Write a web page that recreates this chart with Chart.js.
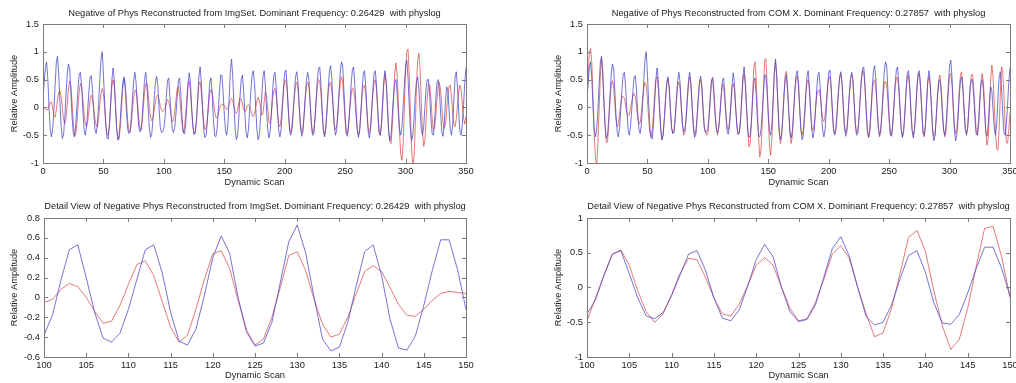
<!DOCTYPE html>
<html>
<head>
<meta charset="utf-8">
<script src="https://cdn.jsdelivr.net/npm/chart.js@4"></script>
<style>
  html, body { margin: 0; padding: 0; background: #fff; }
  #figure { position: relative; width: 1016px; height: 383px; overflow: hidden; background: #fff; }
  #figure canvas { position: absolute; }
</style>
</head>
<body>
<div id="figure">
  <canvas id="imgOverview" width="508" height="190" style="left:0;top:0"></canvas>
  <canvas id="comOverview" width="508" height="190" style="left:508px;top:0"></canvas>
  <canvas id="imgDetail" width="508" height="193" style="left:0;top:190px"></canvas>
  <canvas id="comDetail" width="508" height="193" style="left:508px;top:190px"></canvas>
</div>
<script>
// Dynamic scan index of the first sample
const firstScan = 0;

// Physiological log trace (blue), one value per dynamic scan 0..350
const physlog = [
  0.18, 0.45, 0.72, 0.82, 0.5, 0.0, -0.4, -0.53, -0.4, -0.05,
  0.4, 0.8, 0.92, 0.6, 0.1, -0.35, -0.56, -0.5, -0.2, 0.2,
  0.58, 0.78, 0.7, 0.3, -0.15, -0.45, -0.53, -0.35, 0.0, 0.35,
  0.6, 0.63, 0.35, -0.05, -0.4, -0.5, -0.35, -0.05, 0.3, 0.55,
  0.57, 0.3, -0.1, -0.4, -0.47, -0.3, 0.05, 0.5, 0.88, 1.0,
  0.6, 0.1, -0.35, -0.55, -0.57, -0.3, 0.1, 0.5, 0.71, 0.5,
  0.05, -0.4, -0.59, -0.5, -0.2, 0.15, 0.45, 0.55, 0.35, -0.05,
  -0.38, -0.47, -0.45, -0.2, 0.15, 0.48, 0.63, 0.45, 0.05, -0.3,
  -0.44, -0.42, -0.2, 0.15, 0.5, 0.63, 0.4, 0.0, -0.38, -0.54,
  -0.48, -0.2, 0.15, 0.45, 0.56, 0.4, 0.0, -0.35, -0.45, -0.44,
  -0.38, -0.18, 0.17, 0.48, 0.53, 0.2, -0.15, -0.41, -0.45, -0.36,
  -0.12, 0.18, 0.48, 0.53, 0.25, -0.15, -0.44, -0.48, -0.32, 0.02,
  0.4, 0.62, 0.44, 0.0, -0.35, -0.49, -0.46, -0.25, 0.15, 0.56,
  0.73, 0.45, 0.0, -0.42, -0.54, -0.5, -0.25, 0.12, 0.46, 0.53,
  0.22, -0.22, -0.51, -0.53, -0.39, -0.08, 0.27, 0.58, 0.58, 0.28,
  -0.12, -0.42, -0.5, -0.3, 0.15, 0.65, 0.87, 0.55, 0.05, -0.4,
  -0.58, -0.5, -0.2, 0.2, 0.5, 0.58, 0.3, -0.1, -0.45, -0.55,
  -0.4, -0.05, 0.3, 0.58, 0.66, 0.45, 0.0, -0.4, -0.58, -0.5,
  -0.2, 0.2, 0.55, 0.66, 0.4, -0.05, -0.42, -0.55, -0.42, -0.1,
  0.3, 0.58, 0.63, 0.35, -0.05, -0.42, -0.53, -0.4, -0.05, 0.35,
  0.62, 0.67, 0.4, -0.05, -0.42, -0.5, -0.4, -0.1, 0.25, 0.55,
  0.64, 0.45, 0.05, -0.35, -0.52, -0.45, -0.15, 0.2, 0.5, 0.63,
  0.5, 0.1, -0.3, -0.5, -0.48, -0.22, 0.15, 0.5, 0.7, 0.73,
  0.4, -0.05, -0.42, -0.53, -0.38, -0.05, 0.35, 0.65, 0.75, 0.5,
  0.05, -0.35, -0.5, -0.42, -0.1, 0.3, 0.65, 0.82, 0.75, 0.3,
  -0.15, -0.48, -0.52, -0.3, 0.05, 0.42, 0.68, 0.73, 0.42, 0.0,
  -0.4, -0.54, -0.42, -0.1, 0.3, 0.6, 0.66, 0.4, -0.05, -0.42,
  -0.55, -0.4, -0.05, 0.35, 0.62, 0.66, 0.38, -0.05, -0.45, -0.5,
  -0.3, 0.1, 0.5, 0.66, 0.45, 0.0, -0.45, -0.6, -0.5, -0.15,
  0.2, 0.45, 0.5, 0.28, -0.1, -0.4, -0.5, -0.35, 0.0, 0.4,
  0.75, 0.85, 0.55, 0.05, -0.4, -0.6, -0.5, -0.2, 0.2, 0.48,
  0.55, 0.35, -0.05, -0.4, -0.5, -0.35, 0.0, 0.35, 0.5, 0.5,
  0.2, -0.2, -0.48, -0.5, -0.25, 0.15, 0.45, 0.5, 0.3, -0.1,
  -0.45, -0.52, -0.3, 0.1, 0.37, 0.3, -0.05, -0.4, -0.5, -0.3,
  0.15, 0.55, 0.64, 0.35, -0.1, -0.45, -0.5, -0.3, 0.05, 0.45,
  0.72
];

// Negative phys reconstructed from the image set (red, left column)
const imgSetPhys = [
  -0.02, -0.03, -0.02, -0.05, -0.04, 0.03, 0.09, 0.1, 0.0, -0.15,
  -0.18, -0.05, 0.15, 0.27, 0.3, 0.2, -0.02, -0.22, -0.29, -0.2,
  0.05, 0.32, 0.47, 0.4, 0.1, -0.25, -0.48, -0.5, -0.3, 0.0,
  0.3, 0.43, 0.38, 0.15, -0.12, -0.3, -0.35, -0.25, -0.05, 0.15,
  0.22, 0.15, -0.02, -0.2, -0.32, -0.35, -0.2, 0.05, 0.25, 0.34,
  0.25, 0.0, -0.3, -0.48, -0.5, -0.3, 0.05, 0.38, 0.5, 0.38,
  0.0, -0.38, -0.55, -0.57, -0.35, 0.0, 0.35, 0.52, 0.45, 0.12,
  -0.22, -0.42, -0.44, -0.3, -0.05, 0.18, 0.3, 0.31, 0.15, -0.12,
  -0.35, -0.41, -0.28, 0.0, 0.28, 0.42, 0.43, 0.25, 0.0, -0.18,
  -0.24, -0.2, -0.05, 0.1, 0.2, 0.22, 0.15, 0.03, -0.05, -0.08,
  -0.05, -0.02, 0.08, 0.14, 0.11, 0.0, -0.14, -0.26, -0.24, -0.08,
  0.13, 0.33, 0.37, 0.22, -0.04, -0.3, -0.45, -0.38, -0.12, 0.18,
  0.44, 0.47, 0.29, -0.03, -0.33, -0.48, -0.42, -0.2, 0.1, 0.42,
  0.46, 0.27, -0.02, -0.27, -0.4, -0.37, -0.2, 0.04, 0.26, 0.32,
  0.26, 0.1, -0.07, -0.18, -0.19, -0.12, -0.03, 0.04, 0.06, 0.05,
  0.04, 0.0, -0.04, -0.02, 0.05, 0.12, 0.16, 0.12, 0.02, -0.08,
  -0.11, -0.05, 0.08, 0.17, 0.15, 0.06, -0.04, -0.08, -0.05, 0.02,
  0.05, 0.02, -0.06, -0.14, -0.17, -0.12, 0.0, 0.12, 0.18, 0.12,
  0.0, -0.14, -0.12, 0.1, 0.28, 0.2, -0.05, -0.27, -0.29, -0.1,
  0.15, 0.3, 0.34, 0.2, -0.08, -0.3, -0.35, -0.22, 0.05, 0.3,
  0.47, 0.5, 0.3, -0.05, -0.35, -0.45, -0.35, -0.08, 0.2, 0.4,
  0.45, 0.32, 0.0, -0.3, -0.45, -0.4, -0.15, 0.15, 0.38, 0.45,
  0.4, 0.1, -0.25, -0.45, -0.45, -0.22, 0.1, 0.38, 0.5, 0.48,
  0.25, -0.1, -0.4, -0.5, -0.35, -0.05, 0.25, 0.42, 0.45, 0.3,
  0.0, -0.3, -0.4, -0.35, -0.1, 0.2, 0.45, 0.55, 0.45, 0.1,
  -0.25, -0.48, -0.45, -0.25, 0.0, 0.22, 0.35, 0.33, 0.15, -0.15,
  -0.4, -0.5, -0.4, -0.1, 0.2, 0.38, 0.4, 0.25, -0.05, -0.35,
  -0.45, -0.35, -0.05, 0.25, 0.45, 0.5, 0.3, -0.05, -0.4, -0.5,
  -0.35, 0.0, 0.4, 0.6, 0.45, 0.05, -0.4, -0.62, -0.65, -0.35,
  0.15, 0.6, 0.8, 0.6, 0.1, -0.45, -0.85, -0.95, -0.65, 0.0,
  0.65, 1.0, 1.05, 0.6, -0.1, -0.75, -1.03, -0.9, -0.35, 0.35,
  0.85, 0.97, 0.7, 0.1, -0.45, -0.7, -0.6, -0.2, 0.2, 0.42,
  0.4, 0.15, -0.2, -0.4, -0.38, -0.15, 0.15, 0.38, 0.45, 0.3,
  0.0, -0.28, -0.38, -0.3, -0.05, 0.22, 0.38, 0.4, 0.2, -0.1,
  -0.32, -0.35, -0.2, 0.05, 0.3, 0.4, 0.3, 0.05, -0.2, -0.3,
  -0.16
];

// Negative phys reconstructed from the centre-of-mass X trace (red, right column)
const comXPhys = [
  0.1, 0.6, 1.0, 1.06, 0.8, 0.15, -0.5, -0.9, -1.03, -0.65,
  -0.05, 0.55, 0.88, 0.7, 0.15, -0.35, -0.64, -0.62, -0.3, 0.1,
  0.4, 0.48, 0.38, 0.08, -0.22, -0.35, -0.3, -0.12, 0.08, 0.18,
  0.2, 0.16, 0.02, -0.1, -0.15, -0.13, -0.02, 0.1, 0.2, 0.25,
  0.2, 0.02, -0.2, -0.3, -0.28, -0.1, 0.15, 0.35, 0.45, 0.4,
  0.15, -0.2, -0.45, -0.53, -0.4, -0.1, 0.25, 0.5, 0.55, 0.35,
  -0.05, -0.4, -0.57, -0.5, -0.2, 0.15, 0.42, 0.52, 0.35, -0.02,
  -0.35, -0.47, -0.42, -0.18, 0.12, 0.38, 0.46, 0.35, 0.0, -0.35,
  -0.5, -0.45, -0.2, 0.12, 0.42, 0.55, 0.45, 0.05, -0.3, -0.48,
  -0.48, -0.22, 0.12, 0.42, 0.5, 0.35, -0.02, -0.35, -0.45, -0.5,
  -0.48, -0.15, 0.18, 0.48, 0.54, 0.32, -0.05, -0.35, -0.5, -0.38,
  -0.1, 0.2, 0.42, 0.4, 0.15, -0.15, -0.38, -0.41, -0.24, 0.03,
  0.32, 0.43, 0.32, 0.0, -0.3, -0.48, -0.45, -0.22, 0.12, 0.48,
  0.6, 0.42, 0.0, -0.38, -0.71, -0.65, -0.3, 0.2, 0.72, 0.82,
  0.52, -0.05, -0.55, -0.89, -0.75, -0.3, 0.3, 0.85, 0.88, 0.45,
  -0.15, -0.7, -0.86, -0.55, 0.05, 0.6, 0.82, 0.55, 0.0, -0.45,
  -0.65, -0.55, -0.15, 0.25, 0.58, 0.65, 0.35, -0.1, -0.5, -0.65,
  -0.5, -0.1, 0.3, 0.52, 0.56, 0.35, -0.05, -0.4, -0.5, -0.4,
  -0.1, 0.25, 0.45, 0.5, 0.3, -0.05, -0.35, -0.42, -0.3, -0.05,
  0.2, 0.3, 0.32, 0.2, -0.02, -0.2, -0.25, -0.15, 0.1, 0.35,
  0.52, 0.55, 0.3, -0.05, -0.38, -0.47, -0.35, -0.05, 0.28, 0.52,
  0.6, 0.42, 0.05, -0.32, -0.45, -0.4, -0.12, 0.22, 0.5, 0.6,
  0.5, 0.12, -0.28, -0.45, -0.45, -0.2, 0.15, 0.5, 0.66, 0.65,
  0.35, -0.05, -0.42, -0.55, -0.45, -0.1, 0.25, 0.45, 0.5, 0.35,
  0.0, -0.35, -0.53, -0.45, -0.15, 0.2, 0.42, 0.47, 0.4, 0.1,
  -0.25, -0.5, -0.5, -0.3, 0.05, 0.38, 0.53, 0.54, 0.3, -0.05,
  -0.4, -0.53, -0.42, -0.1, 0.28, 0.55, 0.58, 0.35, -0.05, -0.4,
  -0.5, -0.4, -0.05, 0.35, 0.6, 0.6, 0.35, -0.05, -0.45, -0.53,
  -0.35, 0.05, 0.45, 0.55, 0.38, 0.0, -0.38, -0.52, -0.5, -0.2,
  0.2, 0.5, 0.58, 0.38, 0.0, -0.38, -0.53, -0.45, -0.1, 0.3,
  0.57, 0.61, 0.4, 0.0, -0.35, -0.47, -0.4, -0.1, 0.3, 0.58,
  0.64, 0.4, 0.0, -0.38, -0.47, -0.38, -0.05, 0.35, 0.58, 0.6,
  0.35, -0.05, -0.42, -0.5, -0.35, 0.05, 0.45, 0.61, 0.45, 0.05,
  -0.45, -0.68, -0.55, -0.05, 0.5, 0.76, 0.55, 0.05, -0.45, -0.75,
  -0.77, -0.4, 0.25, 0.73, 0.65, 0.2, -0.3, -0.62, -0.65, -0.4,
  -0.1
];

// Axis tick values
const overviewXTicks = [0, 50, 100, 150, 200, 250, 300, 350];
const overviewYTicks = [-1, -0.5, 0, 0.5, 1, 1.5];
const detailXTicks = [100, 105, 110, 115, 120, 125, 130, 135, 140, 145, 150];
const imgDetailYTicks = [-0.6, -0.4, -0.2, 0, 0.2, 0.4, 0.6, 0.8];
const comDetailYTicks = [-1, -0.5, 0, 0.5, 1];

// Panel titles
const titles = {
  imgOverview: 'Negative of Phys Reconstructed from ImgSet. Dominant Frequency: 0.26429  with physlog',
  comOverview: 'Negative of Phys Reconstructed from COM X. Dominant Frequency: 0.27857  with physlog',
  imgDetail: 'Detail View of Negative Phys Reconstructed from ImgSet. Dominant Frequency: 0.26429  with physlog',
  comDetail: 'Detail View of Negative Phys Reconstructed from COM X. Dominant Frequency: 0.27857  with physlog'
};

const FONT = "'Liberation Sans', Arial, Helvetica, sans-serif";
const FONT_SIZE = 9.3;
const TEXT = '#222222';
const AXIS = '#7a7a7a';
const BLUE = 'rgba(70, 70, 200, 0.75)';
const RED = 'rgba(220, 70, 70, 0.72)';

const toPoints = arr => arr.map((v, i) => ({ x: firstScan + i, y: v }));

// Box around the plot area with inward ticks on all four sides
const boxTicks = {
  id: 'boxTicks',
  afterDatasetsDraw(chart) {
    const { ctx, chartArea: a, scales: { x, y } } = chart;
    const L = 4;
    ctx.save();
    ctx.strokeStyle = AXIS;
    ctx.lineWidth = 1;
    ctx.beginPath();
    x.ticks.forEach(t => {
      const px = Math.round(x.getPixelForValue(t.value)) + 0.5;
      ctx.moveTo(px, a.bottom); ctx.lineTo(px, a.bottom - L);
      ctx.moveTo(px, a.top); ctx.lineTo(px, a.top + L);
    });
    y.ticks.forEach(t => {
      const py = Math.round(y.getPixelForValue(t.value)) + 0.5;
      ctx.moveTo(a.left, py); ctx.lineTo(a.left + L, py);
      ctx.moveTo(a.right, py); ctx.lineTo(a.right - L, py);
    });
    ctx.stroke();
    ctx.strokeRect(Math.round(a.left) + 0.5, Math.round(a.top) + 0.5,
                   Math.round(a.right - a.left), Math.round(a.bottom - a.top));
    ctx.restore();
  }
};

function fmt(v) {
  return String(Math.round(v * 100) / 100);
}

function makePanel(id, redSeries, cfg) {
  new Chart(document.getElementById(id), {
    type: 'line',
    data: {
      datasets: [
        { label: 'physlog', data: toPoints(physlog), borderColor: BLUE, borderWidth: 1,
          pointRadius: 0, tension: 0, clip: 0 },
        { label: 'reconstructed', data: toPoints(redSeries), borderColor: RED, borderWidth: 1,
          pointRadius: 0, tension: 0, clip: 0 }
      ]
    },
    options: {
      responsive: false,
      animation: false,
      devicePixelRatio: 1,
      layout: { autoPadding: false, padding: { left: cfg.padLeft, right: cfg.padRight, top: 0, bottom: 0 } },
      plugins: {
        legend: { display: false },
        tooltip: { enabled: false },
        title: {
          display: true,
          text: titles[id],
          fullSize: false,
          color: TEXT,
          font: { family: FONT, size: FONT_SIZE, weight: 'normal', lineHeight: 1.2 },
          padding: { top: cfg.titleTop, bottom: cfg.titleBottom }
        }
      },
      scales: {
        x: {
          type: 'linear',
          min: cfg.xTicks[0],
          max: cfg.xTicks[cfg.xTicks.length - 1],
          grid: { display: false, drawTicks: false },
          border: { display: false },
          afterBuildTicks: s => { s.ticks = cfg.xTicks.map(v => ({ value: v })); },
          afterFit: s => {
            s.height = cfg.xHeight;
            // let end labels run past the plot edge instead of shrinking the plot
            s.paddingLeft = 0;
            s.paddingRight = 0;
          },
          ticks: { autoSkip: false, maxRotation: 0, padding: 3, color: TEXT,
                   font: { family: FONT, size: FONT_SIZE }, callback: fmt },
          title: { display: true, text: 'Dynamic Scan', color: TEXT,
                   font: { family: FONT, size: FONT_SIZE }, padding: { top: 0, bottom: 2 } }
        },
        y: {
          type: 'linear',
          min: cfg.yTicks[0],
          max: cfg.yTicks[cfg.yTicks.length - 1],
          grid: { display: false, drawTicks: false },
          border: { display: false },
          afterBuildTicks: s => { s.ticks = cfg.yTicks.map(v => ({ value: v })); },
          afterFit: s => {
            s.width = cfg.yWidth;
            s.paddingTop = 0;
            s.paddingBottom = 0;
          },
          ticks: { autoSkip: false, padding: 4, color: TEXT,
                   font: { family: FONT, size: FONT_SIZE }, callback: fmt },
          title: { display: true, text: 'Relative Amplitude', color: TEXT,
                   font: { family: FONT, size: FONT_SIZE }, padding: { top: 9, bottom: 0 } }
        }
      }
    },
    plugins: [boxTicks]
  });
}

makePanel('imgOverview', imgSetPhys, {
  padLeft: 0, padRight: 42, yWidth: 43, xHeight: 27, titleTop: 8, titleBottom: 4.8,
  xTicks: overviewXTicks, yTicks: overviewYTicks
});
makePanel('comOverview', comXPhys, {
  padLeft: 36, padRight: 6, yWidth: 43, xHeight: 27, titleTop: 8, titleBottom: 4.8,
  xTicks: overviewXTicks, yTicks: overviewYTicks
});
makePanel('imgDetail', imgSetPhys, {
  padLeft: 0, padRight: 42, yWidth: 44, xHeight: 26, titleTop: 11.1, titleBottom: 5.7,
  xTicks: detailXTicks, yTicks: imgDetailYTicks
});
makePanel('comDetail', comXPhys, {
  padLeft: 36, padRight: 6, yWidth: 43, xHeight: 26, titleTop: 11.1, titleBottom: 5.7,
  xTicks: detailXTicks, yTicks: comDetailYTicks
});
</script>
</body>
</html>
